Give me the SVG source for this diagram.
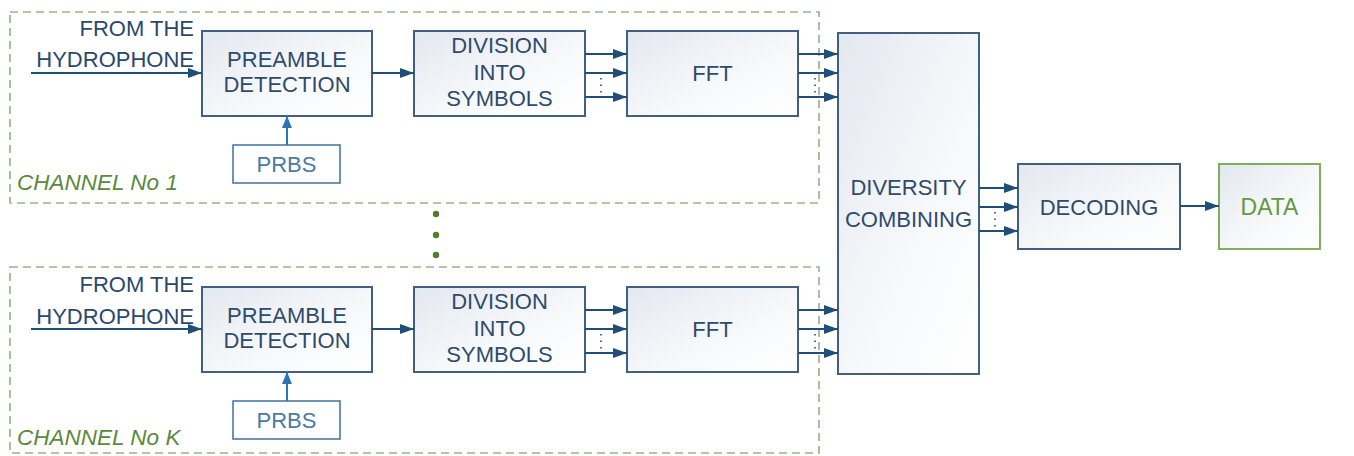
<svg xmlns="http://www.w3.org/2000/svg" width="1354" height="456" viewBox="0 0 1354 456">
<defs>
<linearGradient id="bg" x1="0" y1="0" x2="1" y2="1">
<stop offset="0" stop-color="#e3e8ef"/>
<stop offset="0.6" stop-color="#f8f9fb"/>
<stop offset="1" stop-color="#ffffff"/>
</linearGradient>
<marker id="ah" viewBox="0 0 10 10" preserveAspectRatio="none" refX="10" refY="5" markerWidth="14" markerHeight="10" markerUnits="userSpaceOnUse" orient="auto">
<path d="M0,0 L10,5 L0,10 z" fill="#1f4e79"/>
</marker>
<marker id="ah2" viewBox="0 0 10 10" preserveAspectRatio="none" refX="10" refY="5" markerWidth="12" markerHeight="10" markerUnits="userSpaceOnUse" orient="auto">
<path d="M0,0 L10,5 L0,10 z" fill="#2e75b6"/>
</marker>
</defs>
<style>
.box{fill:url(#bg);stroke:#41607f;stroke-width:2}
.prbs{fill:#ffffff;stroke:#4a7aa8;stroke-width:1.6}
.grp{fill:none;stroke:#9db289;stroke-width:1.7;stroke-dasharray:8 5}
.t{font-family:"Liberation Sans",Arial,sans-serif;font-size:22px;fill:#2f4b6b;text-anchor:middle}
.tp{font-family:"Liberation Sans",Arial,sans-serif;font-size:22px;fill:#4a7aa8;text-anchor:middle}
.tl{font-family:"Liberation Sans",Arial,sans-serif;font-size:22px;fill:#2a486c;text-anchor:end}
.ch{font-family:"Liberation Sans",Arial,sans-serif;font-size:22.5px;font-style:italic;fill:#5a8a3a}
.td{font-family:"Liberation Sans",Arial,sans-serif;font-size:23px;fill:#66993f;text-anchor:middle}
.c{stroke:#1f4e79;stroke-width:2;fill:none;marker-end:url(#ah)}
.cp{stroke:#2e75b6;stroke-width:2;fill:none;marker-end:url(#ah2)}
.dots{stroke:#5a6f85;stroke-width:2;stroke-dasharray:1.5 5;fill:none}
</style>

<g id="channel1">
<rect class="grp" x="10" y="12" width="809" height="191"/>
<text class="ch" x="17" y="190">CHANNEL No 1</text>
</g>
<g id="channelK">
<rect class="grp" x="10" y="267" width="809" height="186"/>
<text class="ch" x="17" y="445">CHANNEL No K</text>
</g>

<g id="vdots" fill="#4f7f2e">
<circle cx="436" cy="214" r="3.2"/>
<circle cx="436" cy="235" r="3.2"/>
<circle cx="436" cy="255" r="3.2"/>
</g>

<g id="input1">
<text class="tl" x="194" y="36">FROM THE</text>
<text class="tl" x="194" y="67">HYDROPHONE</text>
</g>
<g id="inputK">
<text class="tl" x="194" y="292">FROM THE</text>
<text class="tl" x="194" y="324">HYDROPHONE</text>
</g>

<g id="preamble1">
<rect class="box" x="202" y="31" width="170" height="85"/>
<text class="t" x="287" y="67">PREAMBLE</text>
<text class="t" x="287" y="92">DETECTION</text>
</g>
<g id="prbs1">
<rect class="prbs" x="233" y="145" width="107" height="38"/>
<text class="tp" x="286.5" y="172">PRBS</text>
</g>
<g id="division1">
<rect class="box" x="414" y="31" width="171" height="85"/>
<text class="t" x="499.5" y="53">DIVISION</text>
<text class="t" x="499.5" y="80">INTO</text>
<text class="t" x="499.5" y="106">SYMBOLS</text>
</g>
<g id="fft1">
<rect class="box" x="627" y="31" width="171" height="85"/>
<text class="t" x="712.5" y="81">FFT</text>
</g>

<g id="preambleK">
<rect class="box" x="202" y="287" width="170" height="85"/>
<text class="t" x="287" y="323">PREAMBLE</text>
<text class="t" x="287" y="348">DETECTION</text>
</g>
<g id="prbsK">
<rect class="prbs" x="233" y="401" width="107" height="38"/>
<text class="tp" x="286.5" y="428">PRBS</text>
</g>
<g id="divisionK">
<rect class="box" x="414" y="287" width="171" height="85"/>
<text class="t" x="499.5" y="309">DIVISION</text>
<text class="t" x="499.5" y="336">INTO</text>
<text class="t" x="499.5" y="362">SYMBOLS</text>
</g>
<g id="fftK">
<rect class="box" x="627" y="287" width="171" height="85"/>
<text class="t" x="712.5" y="337">FFT</text>
</g>

<g id="diversity">
<rect class="box" x="838" y="33" width="141" height="341"/>
<text class="t" x="908.5" y="195">DIVERSITY</text>
<text class="t" x="908.5" y="227">COMBINING</text>
</g>
<g id="decoding">
<rect class="box" x="1018" y="164" width="162" height="85"/>
<text class="t" x="1099" y="215">DECODING</text>
</g>
<g id="data">
<rect x="1219" y="164" width="101" height="85" fill="url(#bg)" stroke="#7fae60" stroke-width="2"/>
<text class="td" x="1269.5" y="215">DATA</text>
</g>

<g id="connectors">
<line class="c" x1="31" y1="73" x2="202" y2="73"/>
<line class="c" x1="372" y1="73" x2="414" y2="73"/>
<line class="cp" x1="287" y1="145" x2="287" y2="116"/>
<line class="c" x1="585" y1="54" x2="627" y2="54"/>
<line class="c" x1="585" y1="73" x2="627" y2="73"/>
<line class="c" x1="585" y1="97" x2="627" y2="97"/>
<line class="dots" x1="601" y1="78" x2="601" y2="94"/>
<line class="c" x1="798" y1="54" x2="838" y2="54"/>
<line class="c" x1="798" y1="73" x2="838" y2="73"/>
<line class="c" x1="798" y1="97" x2="838" y2="97"/>
<line class="dots" x1="815" y1="78" x2="815" y2="94"/>

<line class="c" x1="31" y1="329" x2="202" y2="329"/>
<line class="c" x1="372" y1="329" x2="414" y2="329"/>
<line class="cp" x1="287" y1="401" x2="287" y2="372"/>
<line class="c" x1="585" y1="310" x2="627" y2="310"/>
<line class="c" x1="585" y1="329" x2="627" y2="329"/>
<line class="c" x1="585" y1="353" x2="627" y2="353"/>
<line class="dots" x1="601" y1="334" x2="601" y2="350"/>
<line class="c" x1="798" y1="310" x2="838" y2="310"/>
<line class="c" x1="798" y1="329" x2="838" y2="329"/>
<line class="c" x1="798" y1="353" x2="838" y2="353"/>
<line class="dots" x1="815" y1="334" x2="815" y2="350"/>

<line class="c" x1="979" y1="188" x2="1018" y2="188"/>
<line class="c" x1="979" y1="207" x2="1018" y2="207"/>
<line class="c" x1="979" y1="231" x2="1018" y2="231"/>
<line class="dots" x1="995" y1="212" x2="995" y2="228"/>
<line class="c" x1="1180" y1="206" x2="1219" y2="206"/>
</g>
</svg>
